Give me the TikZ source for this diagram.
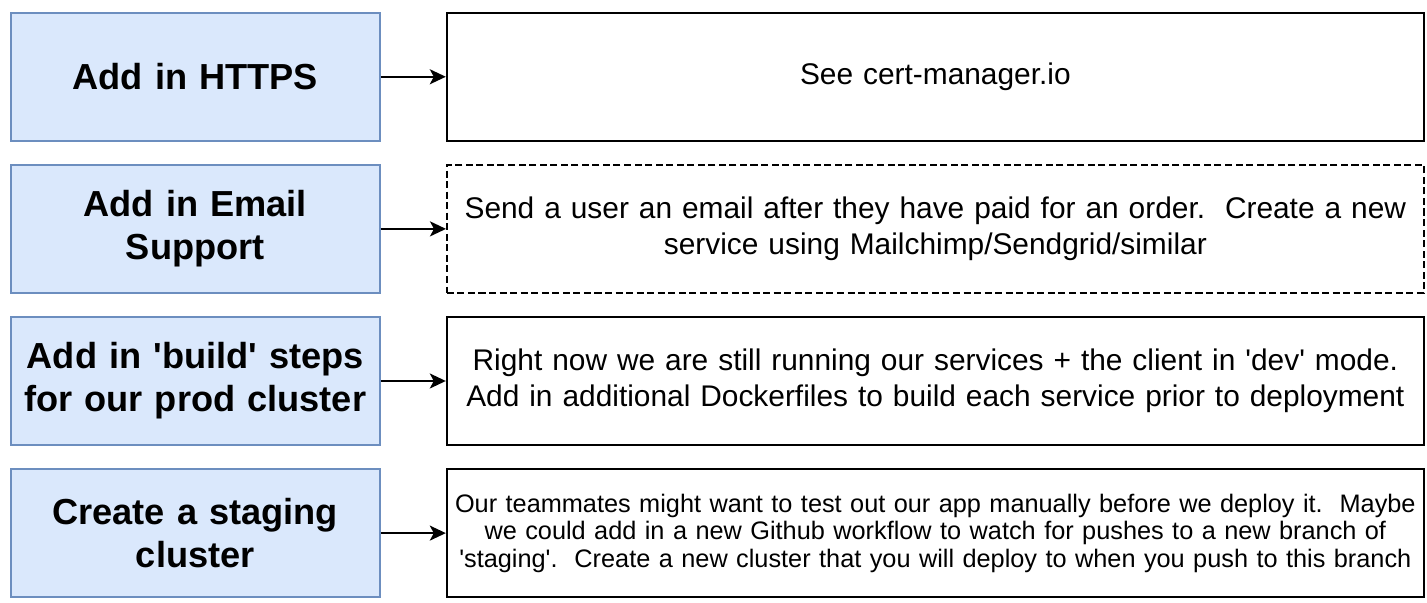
\documentclass[tikz,border=0pt]{standalone}
\usepackage{fontspec}
\setmainfont{Liberation Sans}
\usetikzlibrary{matrix,arrows.meta}
\definecolor{stepfill}{HTML}{DAE8FC}
\definecolor{stepdraw}{HTML}{6C8EBF}
\newcommand{\sq}{\textquotesingle}
\frenchspacing

\begin{document}
\begin{tikzpicture}
    \useasboundingbox (0,0) rectangle (14.27,-6.02);
    \matrix (todo) [matrix of nodes,
            ampersand replacement=\&,
            anchor=north west, inner sep=0pt,
            nodes={anchor=center, minimum height=1.28cm, inner sep=0pt, align=center, line width=0.6pt},
            column 1/.style={nodes={text width=3.69cm, fill=stepfill, draw=stepdraw, font=\fontsize{10.3}{12.2}\selectfont\bfseries}},
            column 2/.style={nodes={text width=9.77cm, draw=black, font=\fontsize{8.5}{10.2}\selectfont}},
            row sep=0.22cm,
            column sep=0.65cm] at (0.09,-0.11) {
      Add in HTTPS \& See cert-manager.io \\
      {Add in Email\\Support} \& |[dash pattern=on 2pt off 1pt, line width=0.5pt]| {Send a user an email after they have paid for an order.~ Create a new\\service using Mailchimp/Sendgrid/similar} \\
      {Add in \sq build\sq{} steps\\for our prod cluster} \& {Right now we are still running our services + the client in \sq dev\sq{} mode.\\Add in additional Dockerfiles to build each service prior to deployment} \\
      {Create a staging\\cluster} \& |[font=\fontsize{7.2}{7.8}\selectfont]| {Our teammates might want to test out our app manually before we deploy it.~ Maybe\\we could add in a new Github workflow to watch for pushes to a new branch of\\\sq staging\sq.~ Create a new cluster that you will deploy to when you push to this branch} \\
    };
    \foreach \i in {1,...,4}
      \draw[line width=0.6pt, -{Stealth[length=0.16cm, width=0.15cm, inset=0.04cm]}] (todo-\i-1) -- (todo-\i-2);
\end{tikzpicture}
\end{document}
